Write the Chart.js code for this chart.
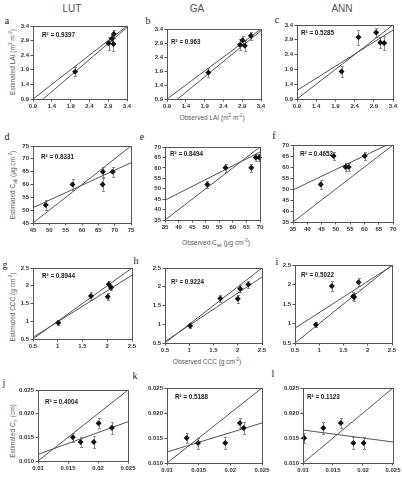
<!DOCTYPE html>
<html><head><meta charset="utf-8">
<script src="https://cdn.jsdelivr.net/npm/chart.js@4.4.1/dist/chart.umd.min.js"></script>
<style>
html,body{margin:0;padding:0;background:#fff;}
#wrap{position:relative;width:402px;height:481px;overflow:hidden;background:#fff;}
canvas{position:absolute;left:0;top:0;}
.t{position:absolute;white-space:nowrap;font-family:'Liberation Sans',Arial,sans-serif;color:#555;transform:translate(-50%,-50%);line-height:1;}
.col{font-size:10px;color:#555;}
.let{font-family:'Liberation Serif','Times New Roman',serif;font-size:10px;color:#222;}
.ax{font-size:6.5px;color:#5a5a5a;}
.v{transform:translate(-50%,-50%) rotate(-90deg);}
sub,sup{font-size:70%;line-height:0;}
</style></head>
<body><div id="wrap">
<div class="t col" style="left:72px;top:9px">LUT</div>
<div class="t col" style="left:197px;top:9px">GA</div>
<div class="t col" style="left:342px;top:9px">ANN</div>

<div class="t let" style="left:7px;top:21px">a</div>
<div class="t let" style="left:148px;top:21px">b</div>
<div class="t let" style="left:277px;top:20px">c</div>
<div class="t let" style="left:7px;top:137px">d</div>
<div class="t let" style="left:142px;top:137px">e</div>
<div class="t let" style="left:274px;top:136px">f</div>
<div class="t let" style="left:5px;top:265px">g</div>
<div class="t let" style="left:136px;top:261px">h</div>
<div class="t let" style="left:277px;top:262px">i</div>
<div class="t let" style="left:4px;top:383px">j</div>
<div class="t let" style="left:135px;top:376px">k</div>
<div class="t let" style="left:273px;top:374px">l</div>

<div class="t ax v" style="left:13px;top:62px">Estimated LAI (m<sup>2</sup> m<sup>-2</sup>)</div>
<div class="t ax v" style="left:13px;top:185px">Estimated C<sub>ab</sub> (µg cm<sup>-2</sup>)</div>
<div class="t ax v" style="left:13px;top:307px">Estimated CCC (g cm<sup>-2</sup>)</div>
<div class="t ax v" style="left:13px;top:431px">Estimated C<sub>w</sub> (cm)</div>
<div class="t ax" style="left:212px;top:118px">Observed LAI (m<sup>2</sup> m<sup>-2</sup>)</div>
<div class="t ax" style="left:216px;top:243px">Observed C<sub>ab</sub> (µg cm<sup>-2</sup>)</div>
<div class="t ax" style="left:207px;top:362px">Observed CCC (g cm<sup>-2</sup>)</div>
</div>
<script>
// ---------- DATA ----------
// LAI (m2 m-2)
const lutLaiObs = [2.02, 2.91, 3.00, 3.04, 3.05];
const lutLaiEst = [1.83, 2.81, 2.96, 2.78, 3.13];
const lutLaiErr = [0.15, 0.22, 0.14, 0.25, 0.14];
const gaLaiObs  = [2.00, 2.84, 2.91, 2.97, 3.13];
const gaLaiEst  = [1.85, 2.84, 3.00, 2.80, 3.16];
const gaLaiErr  = [0.15, 0.20, 0.15, 0.20, 0.15];
const annLaiObs = [2.06, 2.50, 2.96, 3.07, 3.17];
const annLaiEst = [1.83, 2.99, 3.15, 2.81, 2.79];
const annLaiErr = [0.20, 0.25, 0.15, 0.20, 0.25];
// Cab (ug cm-2)
const lutCabObs = [48.9, 57.1, 66.3, 66.4, 69.4];
const lutCabEst = [52, 60, 60, 65, 65];
const lutCabErr = [1.8, 2.0, 2.6, 2.0, 2.0];
const gaCabObs  = [50.6, 57.3, 66.8, 68.4, 69.7];
const gaCabEst  = [52, 60, 60, 65, 65];
const gaCabErr  = [1.6, 2.0, 2.0, 1.8, 1.8];
const annCabObs = [44.7, 49.2, 53.4, 54.5, 60.1];
const annCabEst = [52, 65, 60, 60, 65];
const annCabErr = [2.0, 2.0, 2.0, 2.0, 2.0];
// CCC (g cm-2)
const lutCccObs = [1.01, 1.67, 2.01, 2.03, 2.08];
const lutCccEst = [0.96, 1.71, 1.69, 2.04, 1.95];
const lutCccErr = [0.07, 0.12, 0.10, 0.10, 0.08];
const gaCccObs  = [1.02, 1.64, 2.00, 2.05, 2.22];
const gaCccEst  = [0.96, 1.69, 1.68, 1.95, 2.06];
const gaCccErr  = [0.07, 0.10, 0.10, 0.10, 0.10];
const annCccObs = [0.93, 1.26, 1.70, 1.72, 1.81];
const annCccEst = [0.97, 1.96, 1.70, 1.68, 2.06];
const annCccErr = [0.06, 0.12, 0.10, 0.10, 0.10];
// Cw (cm)
const lutCwObs = [0.0158, 0.0171, 0.0193, 0.0201, 0.0223];
const lutCwEst = [0.015, 0.014, 0.014, 0.018, 0.017];
const lutCwErr = [0.0010, 0.0011, 0.0012, 0.0010, 0.0012];
const gaCwObs  = [0.0131, 0.0149, 0.0192, 0.0215, 0.0221];
const gaCwEst  = [0.015, 0.014, 0.014, 0.018, 0.017];
const gaCwErr  = [0.0010, 0.0011, 0.0012, 0.0010, 0.0012];
const annCwObs = [0.0102, 0.0134, 0.0163, 0.0184, 0.0201];
const annCwEst = [0.015, 0.017, 0.018, 0.014, 0.014];
const annCwErr = [0.0010, 0.0012, 0.0010, 0.0012, 0.0012];

// regression lines (a..l) and R2
const regSlope     = [1.10, 1.10, 0.816, 0.583, 0.66, 0.622, 0.875, 0.86, 0.80, 0.46, 0.387, -0.16];
const regIntercept = [-0.39, -0.40, 0.455, 24.75, 21.4, 27.8, 0.11, 0.11, 0.48, 0.0068, 0.00833, 0.0182];
const rSquared = ['0.9397','0.963','0.5285','0.8331','0.8494','0.4652','0.8944','0.9224','0.5022','0.4004','0.5188','0.1123'];

// tick values / labels
const laiTicks = [0.9, 1.4, 1.9, 2.4, 2.9, 3.4];
const laiLabels = ['0.9','1.4','1.9','2.4','2.9','3.4'];
const cabTicksLut = [45, 50, 55, 60, 65, 70, 75];
const cabLabelsLut = ['45','50','55','60','65','70','75'];
const cabTicks = [35, 40, 45, 50, 55, 60, 65, 70];
const cabLabels = ['35','40','45','50','55','60','65','70'];
const cccTicks = [0.5, 1, 1.5, 2, 2.5];
const cccLabels = ['0.5','1','1.5','2','2.5'];
const cwTicks = [0.010, 0.015, 0.020, 0.025];
const cwXLabels = ['0.01','0.015','0.02','0.025'];
const cwYLabels = ['0.010','0.015','0.020','0.025'];

// ---------- LAYOUT ----------
const W = 402, H = 481;
const panels = [
  {obs: lutLaiObs, est: lutLaiEst, err: lutLaiErr, xt: laiTicks, xl: laiLabels, yt: laiTicks, yl: laiLabels, area:[33,26,127,99], r2d:[9,9]},
  {obs: gaLaiObs,  est: gaLaiEst,  err: gaLaiErr,  xt: laiTicks, xl: laiLabels, yt: laiTicks, yl: laiLabels, area:[167,29,261,99], r2d:[4,13]},
  {obs: annLaiObs, est: annLaiEst, err: annLaiErr, xt: laiTicks, xl: laiLabels, yt: laiTicks, yl: laiLabels, area:[297,25,393,99], r2d:[4,8]},
  {obs: lutCabObs, est: lutCabEst, err: lutCabErr, xt: cabTicksLut, xl: cabLabelsLut, yt: cabTicksLut, yl: cabLabelsLut, area:[33,146,131,223], r2d:[8,11]},
  {obs: gaCabObs,  est: gaCabEst,  err: gaCabErr,  xt: cabTicks, xl: cabLabels, yt: cabTicks, yl: cabLabels, area:[165,147,260,220], r2d:[5,7]},
  {obs: annCabObs, est: annCabEst, err: annCabErr, xt: cabTicks, xl: cabLabels, yt: cabTicks, yl: cabLabels, area:[293,145,393,222], r2d:[7,9]},
  {obs: lutCccObs, est: lutCccEst, err: lutCccErr, xt: cccTicks, xl: cccLabels, yt: cccTicks, yl: cccLabels, area:[33,268,132,339], r2d:[9,8]},
  {obs: gaCccObs,  est: gaCccEst,  err: gaCccErr,  xt: cccTicks, xl: cccLabels, yt: cccTicks, yl: cccLabels, area:[165,268,262,343], r2d:[6,14]},
  {obs: annCccObs, est: annCccEst, err: annCccErr, xt: cccTicks, xl: cccLabels, yt: cccTicks, yl: cccLabels, area:[295,265,392,343], r2d:[6,10]},
  {obs: lutCwObs, est: lutCwEst, err: lutCwErr, xt: cwTicks, xl: cwXLabels, yt: cwTicks, yl: cwYLabels, area:[38,390,128,461], r2d:[7,12]},
  {obs: gaCwObs,  est: gaCwEst,  err: gaCwErr,  xt: cwTicks, xl: cwXLabels, yt: cwTicks, yl: cwYLabels, area:[167,388,262,463], r2d:[8,9]},
  {obs: annCwObs, est: annCwEst, err: annCwErr, xt: cwTicks, xl: cwXLabels, yt: cwTicks, yl: cwYLabels, area:[303,388,393,463], r2d:[4,9]}
];

const YAXW = 30, XAXH = 15;
const tickFont = {family: "'Liberation Sans', Arial, sans-serif", size: 6, weight: 'bold'};

const decoPlugin = {
  id: 'deco',
  beforeDatasetsDraw(chart, args, opts) {
    const ctx = chart.ctx, xs = chart.scales.x, ys = chart.scales.y;
    const pts = chart.data.datasets[2].data;
    ctx.save();
    ctx.strokeStyle = '#8c8c8c'; ctx.lineWidth = 1;
    pts.forEach((p, i) => {
      const e = opts.err[i];
      const x = Math.round(xs.getPixelForValue(p.x)) + 0.5;
      const y1 = Math.round(ys.getPixelForValue(p.y + e)) + 0.5;
      const y2 = Math.round(ys.getPixelForValue(p.y - e)) + 0.5;
      ctx.beginPath();
      ctx.moveTo(x, y1); ctx.lineTo(x, y2);
      ctx.moveTo(x - 1.5, y1); ctx.lineTo(x + 1.5, y1);
      ctx.moveTo(x - 1.5, y2); ctx.lineTo(x + 1.5, y2);
      ctx.stroke();
    });
    ctx.restore();
  },
  afterDraw(chart, args, opts) {
    const ctx = chart.ctx, a = chart.chartArea;
    ctx.save();
    ctx.strokeStyle = '#555'; ctx.lineWidth = 1;
    const l = Math.round(a.left) + 0.5, t = Math.round(a.top) + 0.5;
    ctx.strokeRect(l, t, Math.round(a.right) - Math.round(a.left), Math.round(a.bottom) - Math.round(a.top));
    ctx.font = "bold 6.3px 'Liberation Sans', Arial, sans-serif";
    ctx.fillStyle = '#222'; ctx.textBaseline = 'middle'; ctx.textAlign = 'left';
    ctx.fillText('R\u00B2 = ' + opts.r2, a.left + opts.dx, a.top + opts.dy);
    ctx.restore();
  }
};

const wrap = document.getElementById('wrap');
panels.forEach((p, k) => {
  const cv = document.createElement('canvas');
  cv.width = W; cv.height = H;
  cv.style.width = W + 'px'; cv.style.height = H + 'px';
  wrap.appendChild(cv);
  const [L, T, R, B] = p.area;
  const xmin = p.xt[0], xmax = p.xt[p.xt.length - 1];
  const s = regSlope[k], b = regIntercept[k];
  const scaleCommon = (ticks, labels, isX) => ({
    type: 'linear',
    min: ticks[0], max: ticks[ticks.length - 1],
    afterBuildTicks: ax => { ax.ticks = ticks.map(v => ({value: v})); },
    afterFit: ax => { if (isX) ax.height = XAXH; else ax.width = YAXW; },
    border: {display: false},
    grid: {drawOnChartArea: false, drawTicks: true, tickLength: 2.5, color: '#555', lineWidth: 1},
    ticks: {font: tickFont, color: '#333', padding: 1.5, maxRotation: 0, autoSkip: false,
            callback: (v, i) => labels[i]}
  });
  new Chart(cv, {
    type: 'scatter',
    data: {
      datasets: [
        {data: [{x: xmin, y: xmin}, {x: xmax, y: xmax}], showLine: true, borderColor: '#555', borderWidth: 1, pointRadius: 0, order: 2},
        {data: [{x: xmin, y: s * xmin + b}, {x: xmax, y: s * xmax + b}], showLine: true, borderColor: '#555', borderWidth: 1, pointRadius: 0, order: 1},
        {data: p.obs.map((v, i) => ({x: v, y: p.est[i]})), pointStyle: 'rectRot', pointRadius: 3, pointBackgroundColor: '#111', pointBorderColor: '#111', pointBorderWidth: 0, clip: false, order: 0}
      ]
    },
    options: {
      responsive: false, animation: false, devicePixelRatio: 1,
      layout: {padding: {left: L - YAXW, top: T, right: W - R, bottom: H - B - XAXH}},
      plugins: {legend: {display: false}, tooltip: {enabled: false},
                deco: {err: p.err, r2: rSquared[k], dx: p.r2d[0], dy: p.r2d[1]}},
      scales: {x: scaleCommon(p.xt, p.xl, true), y: scaleCommon(p.yt, p.yl, false)}
    },
    plugins: [decoPlugin]
  });
});
</script>
</body></html>
